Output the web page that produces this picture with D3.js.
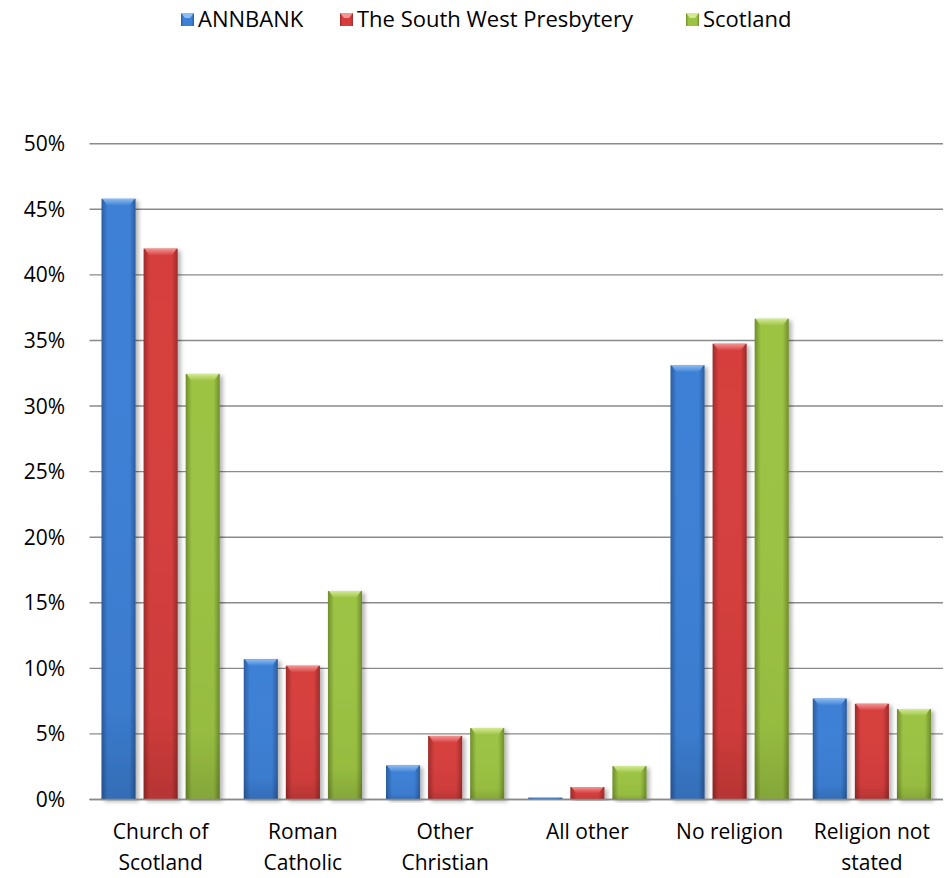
<!DOCTYPE html>
<html>
<head>
<meta charset="utf-8">
<script src="https://cdn.jsdelivr.net/npm/d3@7"></script>
<style>
  body { margin: 0; background: #fff; }
  svg { display: block; font-family: 'Open Sans', sans-serif; }
</style>
</head>
<body>
<script>
const categories = [['Church of', 'Scotland'], ['Roman', 'Catholic'], ['Other', 'Christian'], ['All other'], ['No religion'], ['Religion not', 'stated']]
const seriesNames = ['ANNBANK', 'The South West Presbytery', 'Scotland']
const annbank = [45.8, 10.7, 2.6, 0.15, 33.1, 7.7]
const presbytery = [42.0, 10.2, 4.85, 0.95, 34.75, 7.3]
const scotland = [32.45, 15.9, 5.45, 2.55, 36.65, 6.9]
const yTicks = [0, 5, 10, 15, 20, 25, 30, 35, 40, 45, 50]

const config = {
  width: 944,
  height: 878,
  left: 89.5,
  right: 943,
  top: 143.7,
  bottom: 799.5,
  gridColor: '#8a8a8a',
  fontSize: 21,
  legendSize: 22
}
// [edge, centre, light] per series
const palette = [
  ['#2b5c9e', '#3d80d6', '#8dbcf2'],
  ['#9c2b2a', '#d63e3d', '#f29593'],
  ['#6f8d2c', '#9cc343', '#d3ea95']
]
const values = [annbank, presbytery, scotland]

const svg = d3.select('body').append('svg')
  .attr('width', config.width)
  .attr('height', config.height)

const defs = svg.append('defs')
palette.forEach((c, i) => {
  const g = defs.append('linearGradient').attr('id', 'g' + i).attr('x1', 0).attr('x2', 1).attr('y1', 0).attr('y2', 0)
  g.append('stop').attr('offset', '0%').attr('stop-color', c[0])
  g.append('stop').attr('offset', '18%').attr('stop-color', c[1])
  g.append('stop').attr('offset', '82%').attr('stop-color', c[1])
  g.append('stop').attr('offset', '100%').attr('stop-color', c[0])
  const v = defs.append('linearGradient').attr('id', 'v' + i).attr('x1', 0).attr('x2', 0).attr('y1', 0).attr('y2', 1)
  v.append('stop').attr('offset', '0%').attr('stop-color', '#fff').attr('stop-opacity', 0)
  v.append('stop').attr('offset', '85%').attr('stop-color', '#000').attr('stop-opacity', 0.04)
  v.append('stop').attr('offset', '100%').attr('stop-color', '#000').attr('stop-opacity', 0.15)
  const t = defs.append('linearGradient').attr('id', 't' + i).attr('x1', 0).attr('x2', 0).attr('y1', 0).attr('y2', 1)
  t.append('stop').attr('offset', '0%').attr('stop-color', c[2])
  t.append('stop').attr('offset', '100%').attr('stop-color', c[1])
})
const shadow = defs.append('filter').attr('id', 'shadow').attr('x', '-20%').attr('y', '-5%').attr('width', '150%').attr('height', '115%')
shadow.append('feGaussianBlur').attr('in', 'SourceAlpha').attr('stdDeviation', 2.2)
shadow.append('feOffset').attr('dx', 2.5).attr('dy', 1.5).attr('result', 'b')
shadow.append('feComponentTransfer').append('feFuncA').attr('type', 'linear').attr('slope', 0.3)
const merge = shadow.append('feMerge')
merge.append('feMergeNode')
merge.append('feMergeNode').attr('in', 'SourceGraphic')

const x0 = d3.scaleBand()
  .domain(d3.range(categories.length))
  .range([config.left, config.right])
const x1 = d3.scaleBand()
  .domain(d3.range(seriesNames.length))
  .range([12, x0.bandwidth() - 12])
  .paddingInner(0.19)
const y = d3.scaleLinear().domain([0, 50]).range([config.bottom, config.top])

// gridlines
svg.append('g').selectAll('line')
  .data(yTicks).enter().append('line')
  .attr('x1', config.left).attr('x2', config.right)
  .attr('y1', d => y(d)).attr('y2', d => y(d))
  .attr('stroke', config.gridColor).attr('stroke-width', 1.4)

// y labels
svg.append('g').selectAll('text')
  .data(yTicks).enter().append('text')
  .attr('x', 65).attr('y', d => y(d) + 7.5)
  .attr('text-anchor', 'end')
  .attr('font-size', config.fontSize)
  .attr('fill', '#000')
  .text(d => d + '%')

// bars
const bevel = 7
values.forEach((series, s) => {
  const g = svg.append('g')
  const bars = g.selectAll('g.bar')
    .data(series).enter().append('g')
    .attr('class', 'bar')
    .attr('filter', 'url(#shadow)')
  bars.append('rect')
    .attr('x', (d, i) => x0(i) + x1(s))
    .attr('y', d => y(d))
    .attr('width', x1.bandwidth())
    .attr('height', d => y(0) - y(d))
    .attr('fill', 'url(#g' + s + ')')
  bars.append('rect')
    .attr('x', (d, i) => x0(i) + x1(s))
    .attr('y', d => y(d))
    .attr('width', x1.bandwidth())
    .attr('height', d => y(0) - y(d))
    .attr('fill', 'url(#v' + s + ')')
  bars.append('path')
    .attr('d', (d, i) => {
      const xl = x0(i) + x1(s), xr = xl + x1.bandwidth(), yt = y(d)
      const b = Math.min(bevel, (y(0) - yt) / 2)
      return `M${xl + 1},${yt}L${xr - 1},${yt}L${xr - 6},${yt + b}L${xl + 6},${yt + b}Z`
    })
    .attr('fill', 'url(#t' + s + ')')
})

// axis line on top
svg.append('line')
  .attr('x1', config.left).attr('x2', config.right)
  .attr('y1', y(0)).attr('y2', y(0))
  .attr('stroke', config.gridColor).attr('stroke-width', 1.4)

// category labels
const cat = svg.append('g').selectAll('text')
  .data(categories).enter().append('text')
  .attr('x', (d, i) => x0(i) + x0.bandwidth() / 2)
  .attr('y', 839)
  .attr('text-anchor', 'middle')
  .attr('font-size', config.fontSize)
  .attr('fill', '#000')
cat.selectAll('tspan')
  .data(d => d).enter().append('tspan')
  .attr('x', function() { return d3.select(this.parentNode).attr('x') })
  .attr('dy', (d, i) => i === 0 ? 0 : 31)
  .text(d => d)

// legend
const legendX = [181, 340, 686]
const legend = svg.append('g').selectAll('g')
  .data(seriesNames).enter().append('g')
  .attr('transform', (d, i) => `translate(${legendX[i]},13)`)
legend.append('rect')
  .attr('width', 13).attr('height', 13)
  .attr('fill', (d, i) => 'url(#g' + i + ')')
legend.append('path')
  .attr('d', 'M0,0L13,0L9,5L4,5Z')
  .attr('fill', (d, i) => palette[i][2])
legend.append('text')
  .attr('x', 17).attr('y', 14)
  .attr('font-size', config.legendSize)
  .attr('fill', '#000')
  .text(d => d)
</script>
</body>
</html>
